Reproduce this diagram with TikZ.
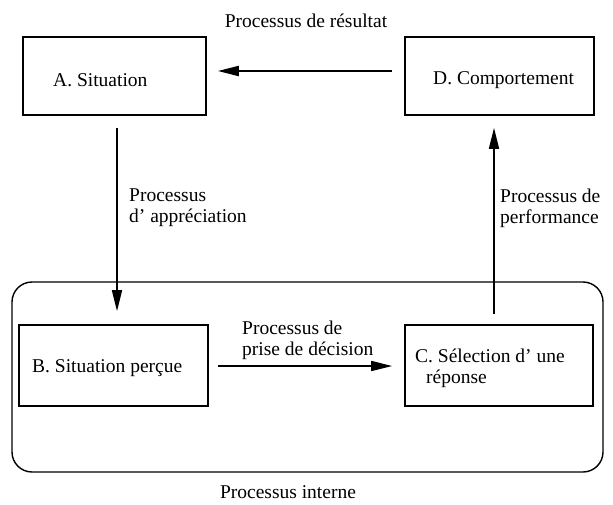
\documentclass[tikz,border=0pt]{standalone}
\usepackage{fontspec}
\setmainfont{Liberation Serif}
\usetikzlibrary{arrows.meta}
\begin{document}
\begin{tikzpicture}[x=1pt,y=-1pt,
  txt/.style={inner sep=0pt, font=\fontsize{19.5}{21}\selectfont},
  box/.style={draw, line width=1.7pt, inner sep=0pt},
  arr/.style={line width=1.6pt, -{Triangle[length=21pt,width=10pt]}}]
\useasboundingbox (0,0) rectangle (613,504);
% internal process frame
\node[draw, line width=1.4pt, rounded corners=20pt, minimum width=591pt, minimum height=190pt] (frame) at (307.5,377) {};
% boxes
\node[box, minimum width=183pt, minimum height=78pt] (A) at (114.5,76) {};
\node[box, minimum width=189pt, minimum height=78pt] (D) at (499.5,76) {};
\node[box, minimum width=189pt, minimum height=81pt] (B) at (113.5,365.5) {};
\node[box, minimum width=188pt, minimum height=81pt] (C) at (499,365.5) {};
% box texts
\node[txt, anchor=west] (tA) at (53,80) {A. Situation};
\node[txt, anchor=west] (tD) at (433,80) {D. Comportement};
\node[txt, anchor=west] (tB) at (32,368) {B. Situation perçue};
\node[txt, anchor=west, align=left] (tC) at (415,368) {C. Sélection d' une\\\hspace{11pt}réponse};
% process labels
\node[txt] (title) at (306,21) {Processus de résultat};
\node[txt, anchor=west, align=left] (app) at (129,208) {Processus\\d' appréciation};
\node[txt, anchor=west, align=left] (perf) at (500,208) {Processus de\\performance};
\node[txt, anchor=west, align=left] (dec) at (242,340) {Processus de\\prise de décision};
\node[txt] (interne) at (288,492) {Processus interne};
% connectors
\draw[arr, line width=2.2pt] ([xshift=-12pt,yshift=5pt]D.west) -- ([xshift=11pt,yshift=5pt]A.east);
\draw[arr] ([xshift=2.5pt,yshift=-12pt]A.south) -- ([xshift=3.5pt,yshift=13pt]B.north);
\draw[arr] ([xshift=9pt,yshift=-0.5pt]B.east) -- ([xshift=-12pt,yshift=-0.5pt]C.west);
\draw[arr] ([xshift=-5pt,yshift=10pt]C.north) -- ([xshift=-5.5pt,yshift=-12pt]D.south);
\end{tikzpicture}
\end{document}
